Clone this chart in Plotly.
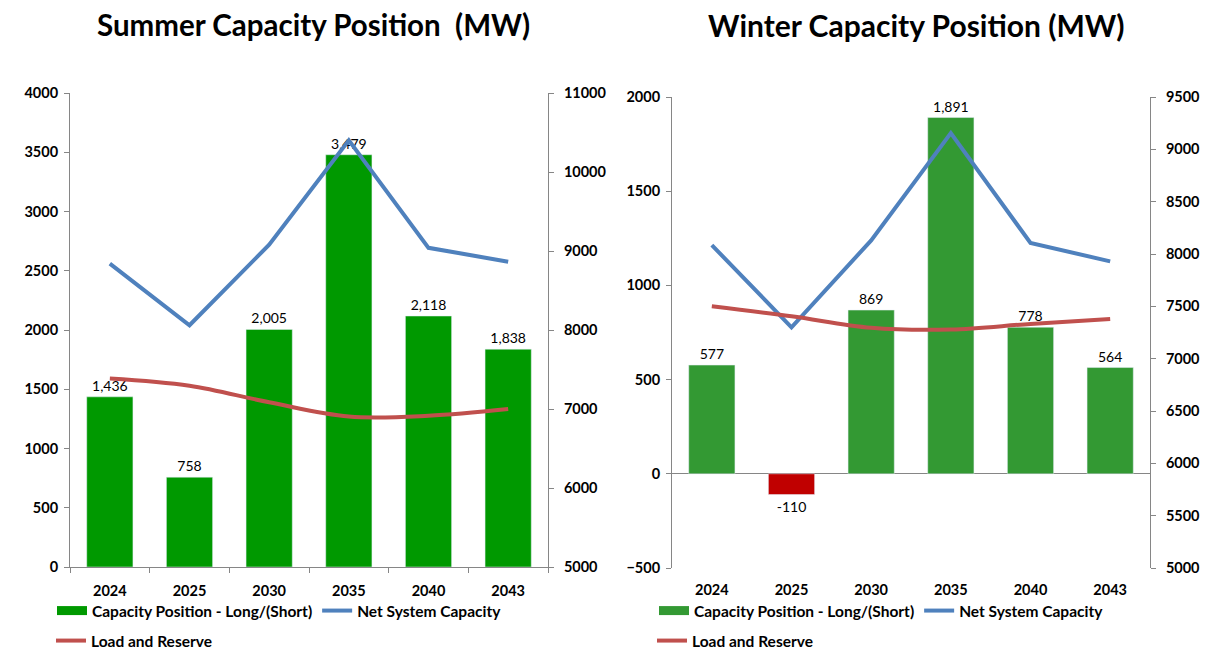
#capacity_position.py

import plotly.graph_objs as go

# chart data
years = ['2024', '2025', '2030', '2035', '2040', '2043']

summer_position = [1436, 758, 2005, 3479, 2118, 1838]
summer_net_capacity = [8840, 8060, 9080, 10400, 9040, 8865]
summer_load_reserve = [7387, 7295, 7085, 6905, 6915, 7000]

winter_position = [577, -110, 869, 1891, 778, 564]
winter_net_capacity = [8085, 7300, 8130, 9155, 8105, 7930]
winter_load_reserve = [7500, 7405, 7295, 7278, 7332, 7380]

# page body has an 8px margin, so the figure is drawn at (8, 8)
PAGE_OFF = 8
W, H = 1217 - PAGE_OFF, 649 - PAGE_OFF
FONT = 'Lato'
GREEN_S = '#009900'
GREEN_W = '#339933'
RED_BAR = '#C00000'
BLUE = '#4F81BD'
RED = '#C0504D'
AXIS = '#868686'


# screen pixel -> paper fraction
def px_x(p):
    return (p - PAGE_OFF) / W


def px_y(p):
    return 1 - (p - PAGE_OFF) / H


def bold(size):
    return dict(family=FONT, size=size, color='black', weight='bold')


def _traces(pos, net, load, xa, ya, ya2, leg_a, leg_b, bar_colors, legend_green):
    labels = ['{:,}'.format(v) for v in pos]
    return [
        go.Bar(x=years, y=pos, xaxis=xa, yaxis=ya, marker=dict(color=bar_colors),
               text=labels, textposition='outside', cliponaxis=False,
               textfont=dict(family=FONT, size=14, color='black'),
               showlegend=False, hoverinfo='skip'),
        # legend swatch for the bars
        go.Scatter(x=[None], y=[None], xaxis=xa, yaxis=ya, mode='lines',
                   line=dict(color=legend_green, width=9),
                   name='Capacity Position - Long/(Short)', legend=leg_a),
        go.Scatter(x=years, y=net, xaxis=xa, yaxis=ya2, mode='lines',
                   line=dict(color=BLUE, width=4), name='Net System Capacity',
                   legend=leg_a),
        go.Scatter(x=years, y=load, xaxis=xa, yaxis=ya2, mode='lines',
                   line=dict(color=RED, width=4, shape='spline'),
                   name='Load and Reserve', legend=leg_b),
    ]


data = []
data += _traces(summer_position, summer_net_capacity, summer_load_reserve,
                'x', 'y', 'y2', 'legend', 'legend2',
                [GREEN_S] * len(years), GREEN_S)
data += _traces(winter_position, winter_net_capacity, winter_load_reserve,
                'x2', 'y3', 'y4', 'legend3', 'legend4',
                [GREEN_W if v >= 0 else RED_BAR for v in winter_position], GREEN_W)

yleft = dict(showgrid=False, showline=True, linecolor=AXIS, linewidth=1,
             ticks='outside', ticklen=5, tickcolor=AXIS, tickfont=bold(14.5),
             zeroline=False, ticklabelstandoff=3, tickformat='d', automargin=False)
yright = dict(yleft, side='right', ticklabelstandoff=7)

leg = dict(orientation='h', font=bold(15.5), bgcolor='rgba(0,0,0,0)',
           xanchor='left', yanchor='top', itemwidth=30, tracegroupgap=0)

layout = go.Layout(
    width=W, height=H,
    margin=dict(l=0, r=0, t=0, b=0, autoexpand=False),
    paper_bgcolor='white', plot_bgcolor='white',
    bargap=0.42,
    xaxis=dict(domain=[px_x(70), px_x(548)], anchor='y', type='category',
               showline=True, linecolor=AXIS, ticks='outside', ticklen=5,
               tickcolor=AXIS, tickson='boundaries', tickfont=bold(14.5),
               ticklabelstandoff=11, showgrid=False, automargin=False),
    yaxis=dict(yleft, domain=[px_y(567), px_y(93)], range=[0, 4000], dtick=500),
    yaxis2=dict(yright, overlaying='y', anchor='x', range=[5000, 11000], dtick=1000),
    xaxis2=dict(domain=[px_x(672), px_x(1150)], anchor='y3', type='category',
                showline=False, ticks='', tickfont=bold(14.5),
                ticklabelstandoff=11, showgrid=False, automargin=False),
    yaxis3=dict(yleft, domain=[px_y(568), px_y(97)], range=[-500, 2000], dtick=500,
                anchor='x2', zeroline=True, zerolinecolor=AXIS, zerolinewidth=1),
    yaxis4=dict(yright, overlaying='y3', anchor='x2', range=[5000, 9500], dtick=500),
    legend=dict(leg, x=px_x(52), y=px_y(594)),
    legend2=dict(leg, x=px_x(51), y=px_y(624)),
    legend3=dict(leg, x=px_x(654), y=px_y(594)),
    legend4=dict(leg, x=px_x(652), y=px_y(624)),
    annotations=[
        dict(text='Summer Capacity Position\u00a0 (MW)', xref='paper', yref='paper',
             x=px_x(313), y=px_y(25), xanchor='center', yanchor='middle',
             showarrow=False, font=bold(29.5)),
        dict(text='Winter Capacity Position (MW)', xref='paper', yref='paper',
             x=px_x(916), y=px_y(25), xanchor='center', yanchor='middle',
             showarrow=False, font=bold(30)),
    ],
)

fig = go.Figure(data=data, layout=layout)
fig.write_html("out.html")
